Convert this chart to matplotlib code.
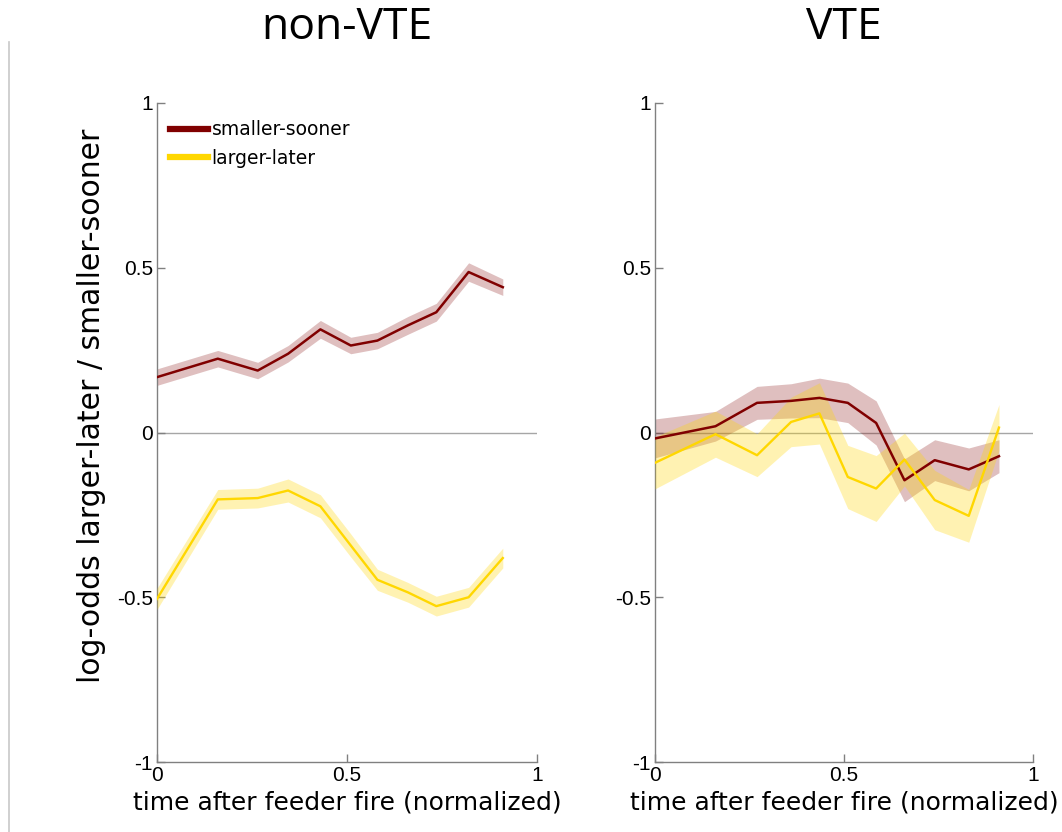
import matplotlib
matplotlib.use("Agg")
import matplotlib.pyplot as plt
from matplotlib.lines import Line2D
import numpy as np

# ---- data -----------------------------------------------------------------
panel_titles = ["non-VTE", "VTE"]
series_names = ["smaller-sooner", "larger-later"]

# normalized time bins after feeder fire
t_nonvte = [0.0, 0.16, 0.265, 0.345, 0.43, 0.51, 0.58, 0.66, 0.735, 0.82, 0.91]
t_vte = [0.0, 0.16, 0.27, 0.36, 0.435, 0.51, 0.585, 0.66, 0.74, 0.83, 0.91]

# non-VTE log-odds (mean and s.e.m.)
ss_nonvte = [0.168, 0.224, 0.188, 0.239, 0.313, 0.264, 0.279, 0.325, 0.365, 0.487, 0.441]
ss_nonvte_sem = [0.025, 0.025, 0.025, 0.025, 0.027, 0.025, 0.025, 0.027, 0.027, 0.028, 0.025]
ll_nonvte = [-0.505, -0.203, -0.199, -0.176, -0.224, -0.343, -0.447, -0.485, -0.527, -0.500, -0.381]
ll_nonvte_sem = [0.032, 0.030, 0.030, 0.035, 0.035, 0.035, 0.032, 0.030, 0.030, 0.030, 0.030]

# VTE log-odds (mean and s.e.m.)
ss_vte = [-0.018, 0.019, 0.090, 0.096, 0.105, 0.090, 0.029, -0.145, -0.084, -0.112, -0.072]
ss_vte_sem = [0.059, 0.045, 0.050, 0.052, 0.060, 0.060, 0.067, 0.065, 0.062, 0.065, 0.050]
ll_vte = [-0.092, -0.005, -0.069, 0.032, 0.058, -0.135, -0.170, -0.082, -0.205, -0.253, 0.015]
ll_vte_sem = [0.079, 0.070, 0.065, 0.075, 0.093, 0.096, 0.100, 0.080, 0.090, 0.080, 0.070]

x_ticks = [0, 0.5, 1]
x_tick_labels = ["0", "0.5", "1"]
y_ticks = [-1, -0.5, 0, 0.5, 1]
y_tick_labels = ["-1", "-0.5", "0", "0.5", "1"]

# ---- style ------------------------------------------------------------------
SS_COLOR = "#800000"
LL_COLOR = "#FFD700"
AXIS_GREY = "#808080"
TICK_FONT = "Liberation Sans"
LABEL_FONT = "DejaVu Sans"

W, H = 1062, 832
fig = plt.figure(figsize=(W / 100, H / 100), dpi=100)
fig.patch.set_facecolor("white")


def px_rect(x0, x1, ytop, ybot):
    return [x0 / W, 1 - ybot / H, (x1 - x0) / W, (ybot - ytop) / H]


ax_left = fig.add_axes(px_rect(157, 537, 103, 762))
ax_right = fig.add_axes(px_rect(655, 1033, 103, 762))

panels = [
    (ax_left, t_nonvte, ss_nonvte, ss_nonvte_sem, ll_nonvte, ll_nonvte_sem),
    (ax_right, t_vte, ss_vte, ss_vte_sem, ll_vte, ll_vte_sem),
]

for ax, t, ss, ss_sem, ll, ll_sem in panels:
    t = np.asarray(t)
    ss, ss_sem = np.asarray(ss), np.asarray(ss_sem)
    ll, ll_sem = np.asarray(ll), np.asarray(ll_sem)

    ax.axhline(0, color="#a6a6a6", lw=1.0, zorder=1)

    ax.fill_between(t, ss - ss_sem, ss + ss_sem, color=SS_COLOR, alpha=0.25,
                    lw=0, zorder=2)
    ax.fill_between(t, ll - ll_sem, ll + ll_sem, color=LL_COLOR, alpha=0.30,
                    lw=0, zorder=3)
    ax.plot(t, ss, color=SS_COLOR, lw=1.8, zorder=4)
    ax.plot(t, ll, color=LL_COLOR, lw=1.7, zorder=5)

    ax.set_xlim(0, 1)
    ax.set_ylim(-1, 1)
    ax.set_xticks(x_ticks)
    ax.set_xticklabels(x_tick_labels)
    ax.set_yticks(y_ticks)
    ax.set_yticklabels(y_tick_labels)
    for side in ("top", "right"):
        ax.spines[side].set_visible(False)
    for side in ("left", "bottom"):
        ax.spines[side].set_color(AXIS_GREY)
        ax.spines[side].set_linewidth(1.0)
    ax.tick_params(direction="in", length=6, width=1.0, color=AXIS_GREY,
                   labelsize=15, pad=3)
    for lab in ax.get_xticklabels() + ax.get_yticklabels():
        lab.set_fontfamily(TICK_FONT)
    ax.set_xlabel("time after feeder fire (normalized)", fontsize=18,
                  family=LABEL_FONT, labelpad=4)
    ax.set_facecolor("white")

ax_left.set_ylabel("log-odds larger-later / smaller-sooner", fontsize=21.5,
                   family=LABEL_FONT)
ax_left.yaxis.set_label_coords(-0.135, 0.54)

# panel titles
for ax, title in zip((ax_left, ax_right), panel_titles):
    ax.text(0.5, 1 + (103 - 28) / 659, title, transform=ax.transAxes,
            ha="center", va="center", fontsize=32, family="Open Sans")

# legend
handles = [Line2D([], [], color=SS_COLOR, lw=4.5),
           Line2D([], [], color=LL_COLOR, lw=4.5)]
ax_left.legend(handles, series_names, loc="upper left",
               bbox_to_anchor=(0.015, 0.985), frameon=False,
               prop={"family": LABEL_FONT, "size": 13.5},
               handlelength=2.0, handletextpad=0.2, labelspacing=0.5,
               borderaxespad=0.0)

# thin page-edge rule on the left
fig.add_artist(Line2D([9 / W, 9 / W], [0, 1 - 42 / H], color="#c8c8c8",
                      lw=1.2, transform=fig.transFigure))

fig.savefig("out.png", dpi=100, facecolor="white")
